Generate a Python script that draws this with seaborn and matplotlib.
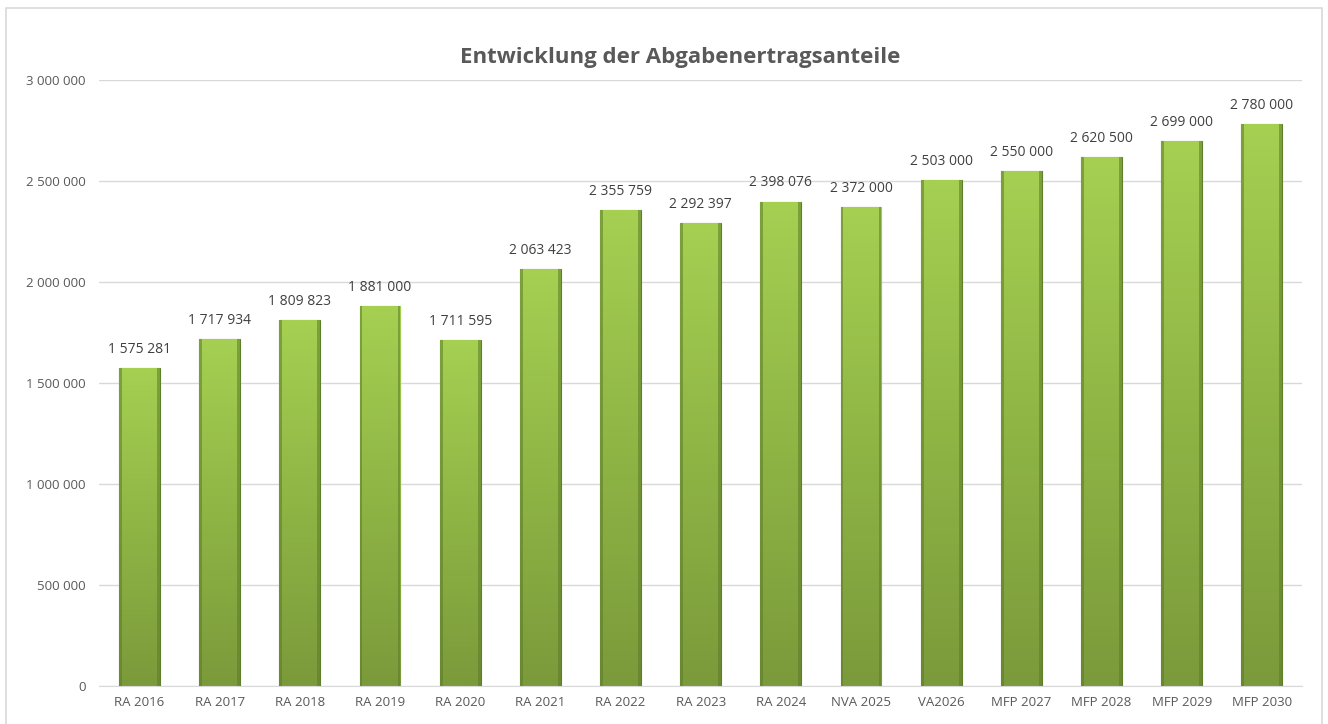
import numpy as np
import pandas as pd
import matplotlib.pyplot as plt
import matplotlib.patches as mpatches
from matplotlib.colors import LinearSegmentedColormap
import seaborn as sns

# data
categories = ['RA 2016', 'RA 2017', 'RA 2018', 'RA 2019', 'RA 2020', 'RA 2021', 'RA 2022',
              'RA 2023', 'RA 2024', 'NVA 2025', 'VA2026', 'MFP 2027', 'MFP 2028',
              'MFP 2029', 'MFP 2030']
values = [1575281, 1717934, 1809823, 1881000, 1711595, 2063423, 2355759,
          2292397, 2398076, 2372000, 2503000, 2550000, 2620500, 2699000, 2780000]
yticks = [0, 500000, 1000000, 1500000, 2000000, 2500000, 3000000]

df = pd.DataFrame({'Kategorie': categories, 'Wert': values})

sns.set_style('white')
plt.rcParams['font.family'] = ['Open Sans', 'DejaVu Sans']


def fmt(v):
    return f'{v:,}'.replace(',', ' ')


fig = plt.figure(figsize=(13.28, 7.24), dpi=100)
ax = fig.add_axes([0.0749, 0.0525, 0.9055, 0.837])

sns.barplot(data=df, x='Kategorie', y='Wert', color='#94c046', width=0.51,
            edgecolor='#5f7f2c', linewidth=0.8, ax=ax, zorder=2)

# vertical gradient inside each bar
cmap = LinearSegmentedColormap.from_list('grn', ['#7b9a3b', '#8fb545', '#a5d052'])
grad = np.linspace(0, 1, 256).reshape(-1, 1)
for p in list(ax.patches):
    x0, w, h = p.get_x(), p.get_width(), p.get_height()
    im = ax.imshow(grad, extent=[x0, x0 + w, 0, h], origin='lower', cmap=cmap,
                   aspect='auto', zorder=2.5)
    im.set_clip_path(p)
    # darker bevel on the sides
    ax.add_patch(mpatches.Rectangle((x0, 0), w * 0.07, h, color='#5c7a28', alpha=0.55,
                                    lw=0, zorder=2.6))
    ax.add_patch(mpatches.Rectangle((x0 + w * 0.93, 0), w * 0.07, h, color='#5c7a28',
                                    alpha=0.55, lw=0, zorder=2.6))
    ax.text(x0 + w / 2, h + 55000, fmt(int(round(h))), ha='center', va='bottom',
            fontsize=10, color='#404040')

ax.set_xlim(-0.5, len(categories) - 0.5)
ax.set_ylim(0, 3000000)
ax.set_yticks(yticks)
ax.set_yticklabels([fmt(v) for v in yticks])
ax.yaxis.grid(True, color='#d9d9d9', lw=1, zorder=0)
ax.set_axisbelow(True)
for s in ['top', 'right', 'left']:
    ax.spines[s].set_visible(False)
ax.spines['bottom'].set_color('#d9d9d9')
ax.tick_params(axis='both', length=0, labelsize=9.5, labelcolor='#595959')
ax.tick_params(axis='y', pad=10)
ax.tick_params(axis='x', pad=7)
ax.set_xlabel('')
ax.set_ylabel('')

fig.text(0.512, 0.92, 'Entwicklung der Abgabenertragsanteile', ha='center', va='center',
         fontsize=16, fontweight='bold', color='#595959')

# outer chart border
fig.patches.append(mpatches.Rectangle((6 / 1328, -0.01), 1316 / 1328, 1 - 8 / 724 + 0.01,
                                      transform=fig.transFigure, fill=False,
                                      edgecolor='#d9d9d9', lw=1.2))

fig.savefig('out.png', dpi=100)
